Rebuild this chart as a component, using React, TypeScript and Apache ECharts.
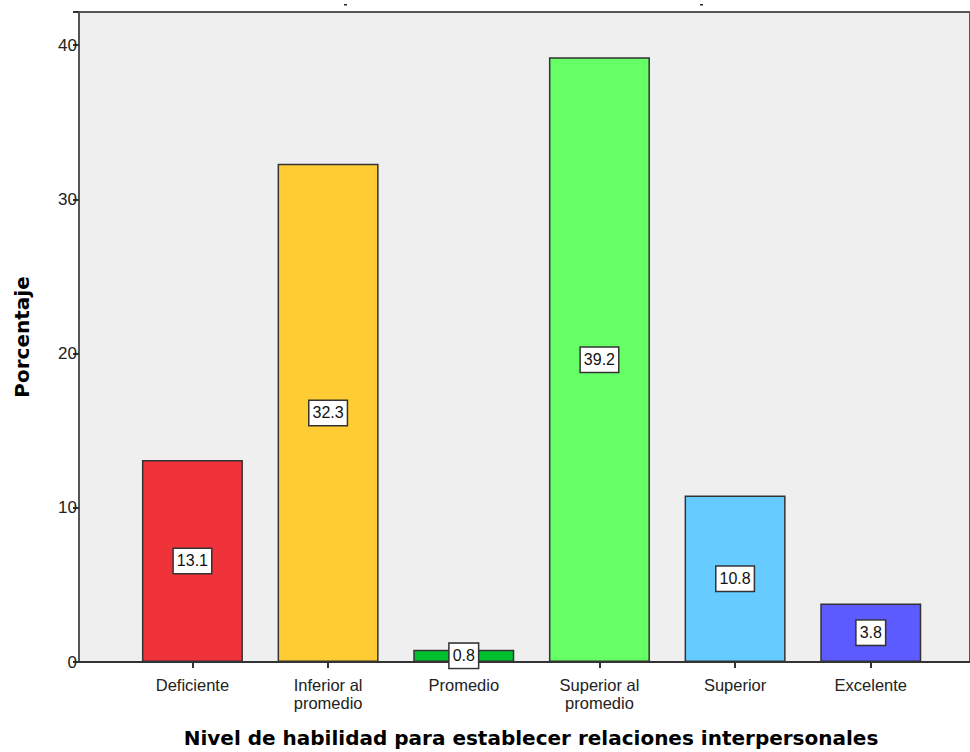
import React, { useEffect, useRef } from "react";
import * as echarts from "echarts";

const categories = ["Deficiente", "Inferior al\npromedio", "Promedio", "Superior al\npromedio", "Superior", "Excelente"];
const values = [13.1, 32.3, 0.8, 39.2, 10.8, 3.8];
const barColors = ["#F0333A", "#FFCC33", "#00C030", "#66FF66", "#66CCFF", "#5B5BFF"];
const yTicks = [0, 10, 20, 30, 40];
const xTitle = "Nivel de habilidad para establecer relaciones interpersonales";
const yTitle = "Porcentaje";

const Y_MAX = 42.14;

export default function App() {
  const ref = useRef<HTMLDivElement>(null);
  useEffect(() => {
    if (!ref.current) return;
    const chart = echarts.init(ref.current, null, { renderer: "svg" });
    const font = "'Liberation Sans', Arial, sans-serif";
    chart.setOption({
      animation: false,
      backgroundColor: "#ffffff",
      textStyle: { fontFamily: font },
      grid: [
        {
          left: 79,
          right: -10,
          top: 12,
          bottom: 90,
          show: true,
          backgroundColor: "#efefef",
          borderColor: "#555555",
          borderWidth: 2,
        },
        {
          left: 124.6,
          width: 814,
          top: 12,
          bottom: 90,
        },
      ],
      xAxis: [
        {
          gridIndex: 0,
          type: "value",
          min: 0,
          max: 1,
          axisLine: { show: true, onZero: false, lineStyle: { color: "#333333", width: 2 } },
          axisTick: { show: false },
          axisLabel: { show: false },
          splitLine: { show: false },
        },
        {
          gridIndex: 1,
          type: "category",
          data: categories,
          axisLine: { show: false },
          axisTick: { show: true, alignWithLabel: true, length: 6, lineStyle: { color: "#333333", width: 2 } },
          axisLabel: { fontSize: 16.5, color: "#222222", lineHeight: 18, margin: 14, interval: 0, fontFamily: font },
        },
      ],
      yAxis: [
        {
          gridIndex: 0,
          type: "value",
          min: 0,
          max: Y_MAX,
          interval: 10,
          axisLine: { show: true, lineStyle: { color: "#555555", width: 2 } },
          axisTick: { show: true, length: 6, lineStyle: { color: "#333333", width: 2 } },
          axisLabel: {
            fontSize: 17,
            color: "#222222",
            margin: 2,
            fontFamily: font,
            formatter: (v: number) => (yTicks.includes(v) ? String(v) : ""),
          },
          splitLine: { show: false },
        },
        {
          gridIndex: 1,
          type: "value",
          min: 0,
          max: Y_MAX,
          show: false,
        },
      ],
      series: [
        {
          type: "bar",
          xAxisIndex: 1,
          yAxisIndex: 1,
          barWidth: 101,
          data: values.map((v, i) => ({
            value: v,
            itemStyle: { color: barColors[i], borderColor: "#333333", borderWidth: 1.5 },
          })),
          label: {
            show: true,
            position: "inside",
            formatter: (p: any) => Number(p.value).toFixed(1),
            fontSize: 16,
            color: "#111111",
            fontFamily: font,
            backgroundColor: "#ffffff",
            borderColor: "#333333",
            borderWidth: 1.5,
            padding: [5, 3, 3, 3],
          },
        },
      ],
      graphic: [
        {
          type: "text",
          x: 22,
          y: 337,
          rotation: Math.PI / 2,
          style: {
            text: yTitle,
            fontSize: 20,
            fontWeight: "bold",
            fontFamily: "'DejaVu Sans', sans-serif",
            fill: "#000000",
            textAlign: "center",
            textVerticalAlign: "middle",
          },
        },
        {
          type: "text",
          x: 531,
          y: 738,
          style: {
            text: xTitle,
            fontSize: 20,
            fontWeight: "bold",
            fontFamily: "'DejaVu Sans', sans-serif",
            fill: "#000000",
            textAlign: "center",
            textVerticalAlign: "middle",
          },
        },
        { type: "rect", shape: { x: 344, y: 4, width: 3, height: 1.5 }, style: { fill: "#222222" } },
        { type: "rect", shape: { x: 700, y: 4, width: 3, height: 1.5 }, style: { fill: "#222222" } },
      ],
    });
    return () => chart.dispose();
  }, []);
  return <div ref={ref} style={{ position: "fixed", left: 0, top: 0, width: 970, height: 752 }} />;
}
